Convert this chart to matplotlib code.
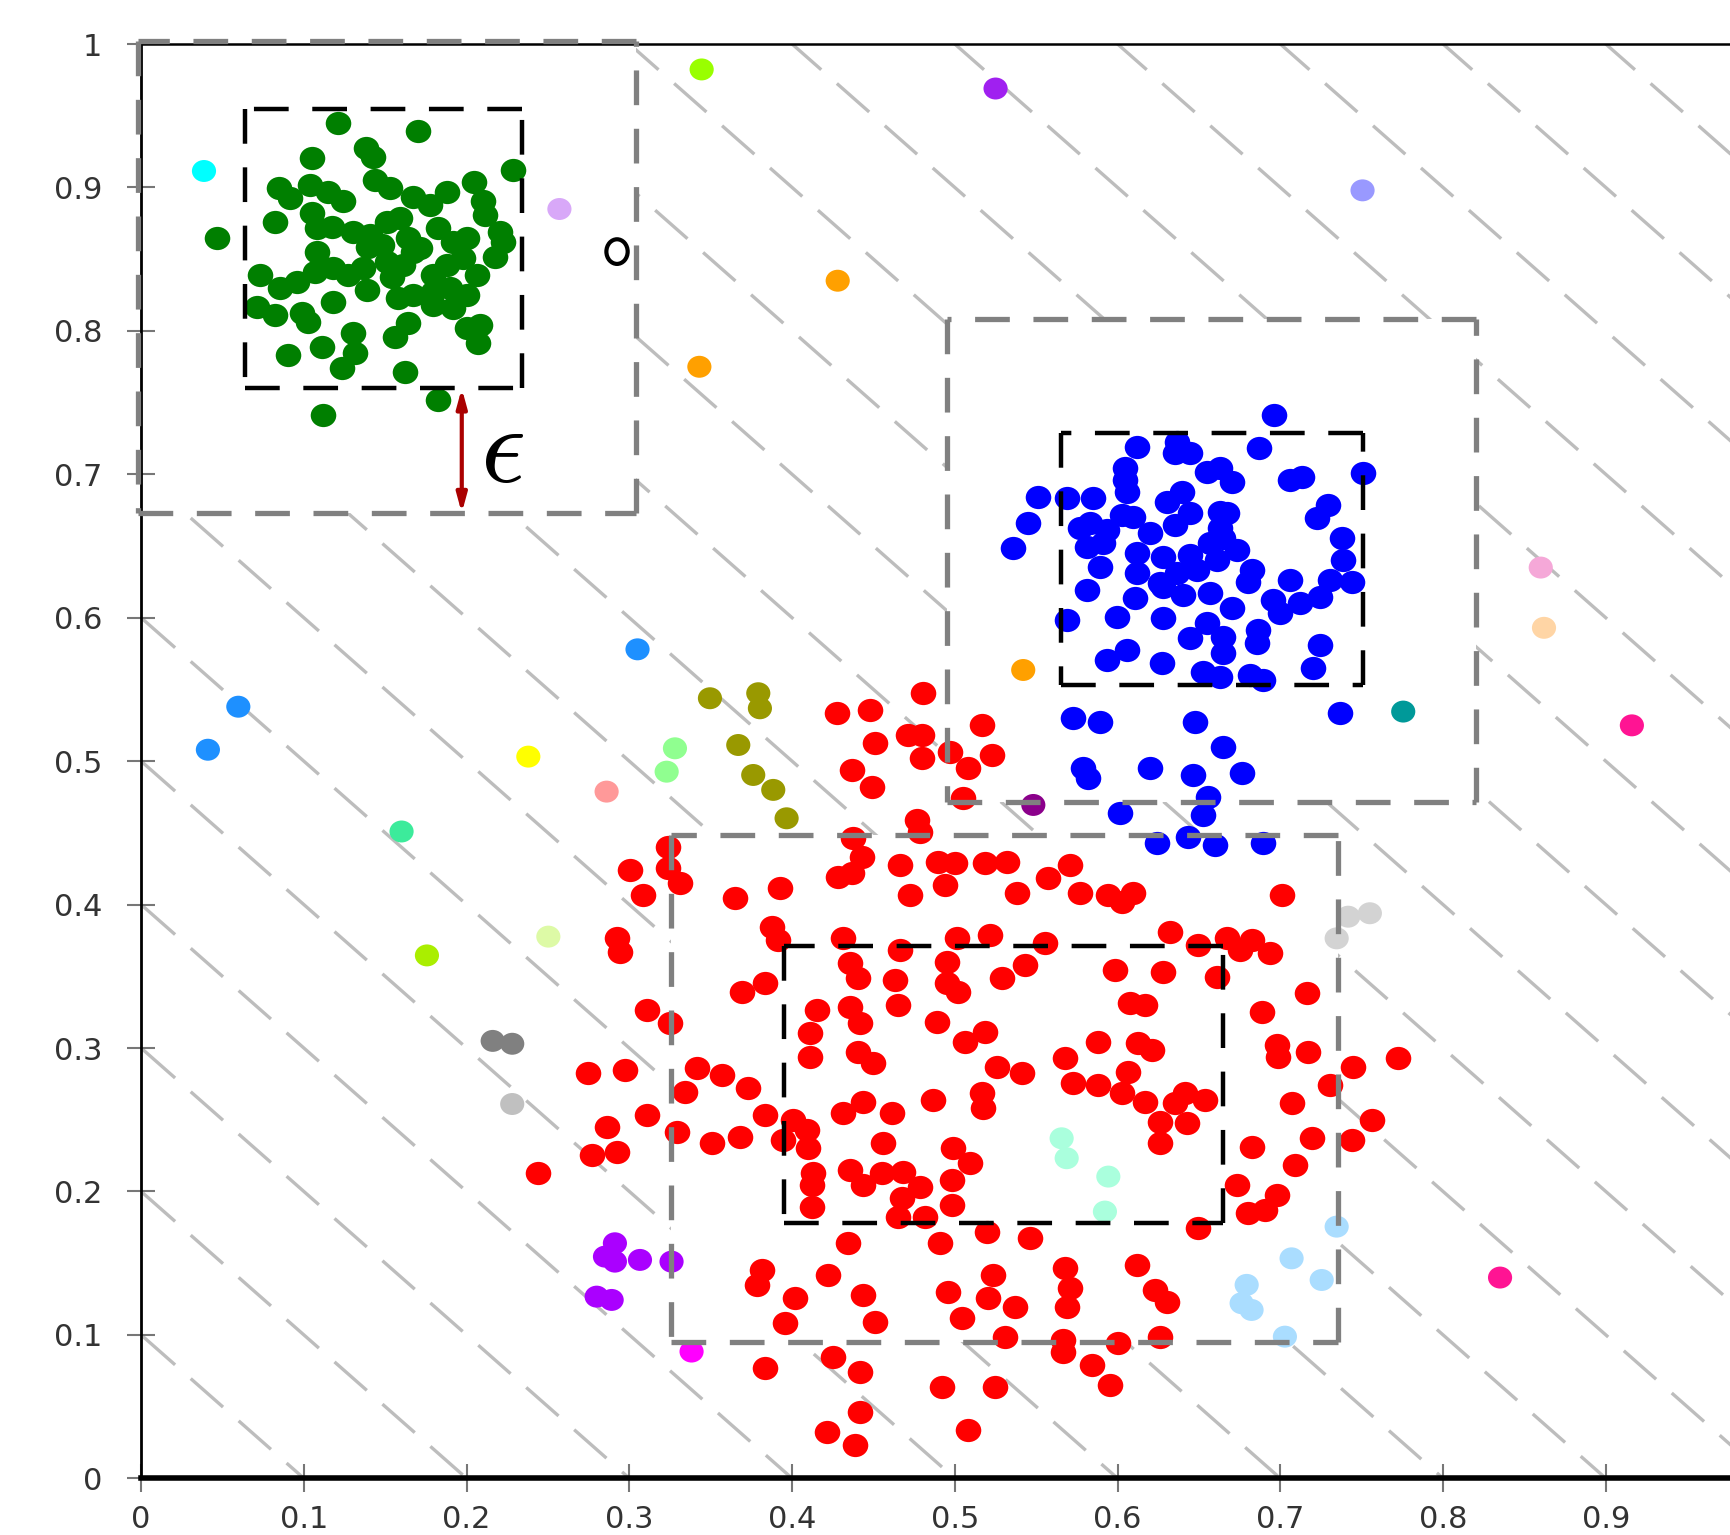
import matplotlib
matplotlib.use('Agg')
import matplotlib.pyplot as plt
from matplotlib.markers import MarkerStyle
from matplotlib.transforms import Affine2D
from matplotlib.patches import Rectangle

plt.rcParams['lines.scale_dashes'] = False

# green cluster (top left)
green_x = [0.1207, 0.1703, 0.1379, 0.1426, 0.1047, 0.2286, 0.0847, 0.1037, 0.1150, 0.1238,
           0.1437, 0.1529, 0.1672, 0.1774, 0.1877, 0.2045, 0.2102, 0.2112, 0.0822, 0.0914,
           0.1047, 0.1078, 0.1170, 0.1303, 0.1396, 0.1508, 0.1590, 0.1641, 0.1713, 0.1826,
           0.1918, 0.2000, 0.2205, 0.2225, 0.2174, 0.0464, 0.0730, 0.0853, 0.0955, 0.1068,
           0.1078, 0.1181, 0.1273, 0.1365, 0.1385, 0.1508, 0.1539, 0.1611, 0.1672, 0.1795,
           0.1877, 0.1979, 0.2061, 0.2000, 0.0710, 0.0822, 0.0986, 0.1027, 0.1181, 0.1580,
           0.1672, 0.1795, 0.1918, 0.1641, 0.1559, 0.2000, 0.2082, 0.2071, 0.1303, 0.1314,
           0.1232, 0.1109, 0.0904, 0.1621, 0.1826, 0.1119, 0.1477, 0.1406, 0.1897, 0.1795]
green_y = [0.9448, 0.9394, 0.9273, 0.9215, 0.9204, 0.9122, 0.8999, 0.9018, 0.8971, 0.8906,
           0.9053, 0.8995, 0.8936, 0.8878, 0.8967, 0.9036, 0.8906, 0.8809, 0.8762, 0.8925,
           0.8820, 0.8716, 0.8727, 0.8692, 0.8588, 0.8762, 0.8785, 0.8646, 0.8576, 0.8716,
           0.8623, 0.8646, 0.8692, 0.8623, 0.8518, 0.8646, 0.8390, 0.8297, 0.8344, 0.8413,
           0.8553, 0.8437, 0.8390, 0.8437, 0.8286, 0.8483, 0.8379, 0.8460, 0.8553, 0.8390,
           0.8460, 0.8506, 0.8390, 0.8251, 0.8170, 0.8111, 0.8123, 0.8065, 0.8204, 0.8228,
           0.8251, 0.8181, 0.8158, 0.8053, 0.7960, 0.8018, 0.8042, 0.7914, 0.7984, 0.7844,
           0.7740, 0.7891, 0.7833, 0.7716, 0.7519, 0.7414, 0.8599, 0.8669, 0.8297, 0.8274]

# blue cluster (right)
blue_x = [0.6961, 0.6117, 0.6363, 0.6352, 0.6445, 0.6870, 0.6045, 0.6045, 0.6547, 0.6629,
          0.6701, 0.7059, 0.7131, 0.7506, 0.5513, 0.5687, 0.5851, 0.6055, 0.6301, 0.6393,
          0.7294, 0.7223, 0.5451, 0.5769, 0.5830, 0.5932, 0.6025, 0.6096, 0.6199, 0.6352,
          0.6445, 0.6629, 0.6670, 0.6629, 0.5359, 0.5810, 0.5912, 0.6117, 0.6281, 0.6445,
          0.6567, 0.6649, 0.6731, 0.7376, 0.7387, 0.5892, 0.6117, 0.6260, 0.6363, 0.6486,
          0.6608, 0.6823, 0.6803, 0.7059, 0.7305, 0.7438, 0.5810, 0.6107, 0.6281, 0.6404,
          0.6567, 0.6701, 0.6957, 0.6998, 0.7120, 0.7243, 0.5687, 0.5994, 0.6281, 0.6547,
          0.6445, 0.6649, 0.6864, 0.6854, 0.6649, 0.7243, 0.7202, 0.6055, 0.5932, 0.6270,
          0.6526, 0.6629, 0.6813, 0.6895, 0.5728, 0.5892, 0.6475, 0.7366, 0.6649, 0.5789,
          0.5820, 0.6199, 0.6465, 0.6762, 0.6557, 0.6014, 0.6527, 0.6240, 0.6434, 0.6598,
          0.6895]
blue_y = [0.7414, 0.7193, 0.7228, 0.7147, 0.7147, 0.7182, 0.7042, 0.6961, 0.7019, 0.7042,
          0.6949, 0.6961, 0.6984, 0.7007, 0.6845, 0.6833, 0.6833, 0.6880, 0.6810, 0.6880,
          0.6786, 0.6694, 0.6659, 0.6624, 0.6659, 0.6612, 0.6717, 0.6705, 0.6589, 0.6647,
          0.6728, 0.6740, 0.6728, 0.6624, 0.6484, 0.6496, 0.6519, 0.6450, 0.6426, 0.6438,
          0.6519, 0.6554, 0.6473, 0.6554, 0.6403, 0.6357, 0.6310, 0.6240, 0.6310, 0.6333,
          0.6403, 0.6333, 0.6252, 0.6264, 0.6264, 0.6252, 0.6194, 0.6136, 0.6217, 0.6159,
          0.6171, 0.6066, 0.6124, 0.6031, 0.6101, 0.6147, 0.5985, 0.6008, 0.5996, 0.5961,
          0.5857, 0.5869, 0.5915, 0.5822, 0.5752, 0.5811, 0.5648, 0.5776, 0.5706, 0.5683,
          0.5625, 0.5590, 0.5601, 0.5566, 0.5299, 0.5276, 0.5276, 0.5334, 0.5102, 0.4951,
          0.4881, 0.4951, 0.4904, 0.4916, 0.4753, 0.4637, 0.4625, 0.4428, 0.4474, 0.4416,
          0.4428]

# red cluster (bottom)
red_x = [0.4806, 0.4273, 0.4478, 0.4509, 0.4714, 0.4796, 0.4796, 0.4970, 0.5082, 0.4365,
         0.4488, 0.5052, 0.4765, 0.4785, 0.4376, 0.4427, 0.4284, 0.4365, 0.4662, 0.4898,
         0.5000, 0.4939, 0.4724, 0.3239, 0.3239, 0.3311, 0.3004, 0.3085, 0.3649, 0.3925,
         0.3874, 0.3915, 0.2922, 0.2942, 0.4314, 0.4662, 0.5011, 0.4355, 0.4406, 0.4632,
         0.4949, 0.4949, 0.5021, 0.3690, 0.3833, 0.4150, 0.4355, 0.4417, 0.4652, 0.4888,
         0.5062, 0.4109, 0.4109, 0.4406, 0.4499, 0.3106, 0.3249, 0.2748, 0.2973, 0.3413,
         0.3567,
         0.5164, 0.5226, 0.5185, 0.5318, 0.5380, 0.5574, 0.5707, 0.5769, 0.5943, 0.6025,
         0.6096, 0.7008, 0.5216, 0.5554, 0.6322, 0.6496, 0.6670, 0.6752, 0.6823, 0.6936,
         0.5431, 0.5287, 0.5984, 0.6281, 0.6608, 0.7161, 0.6076, 0.6168, 0.6885, 0.5185,
         0.5881, 0.5676, 0.6127, 0.6209, 0.6977, 0.6987, 0.7171, 0.7725, 0.7448, 0.5257,
         0.5410, 0.6066,
         0.3341, 0.3731, 0.3106, 0.2860, 0.3290, 0.2768, 0.2922, 0.2440, 0.3505, 0.3679,
         0.3833, 0.3946, 0.4007, 0.4089, 0.4099, 0.4130, 0.4120, 0.4120, 0.4314, 0.4437,
         0.4611, 0.4867, 0.4560, 0.4355, 0.4437, 0.4550, 0.4683, 0.4785, 0.4673, 0.4652,
         0.4816, 0.4980, 0.4980, 0.4990, 0.5093, 0.4345, 0.4908, 0.3812, 0.3782, 0.4222,
         0.4017, 0.3956, 0.4437, 0.4509, 0.4959, 0.5041, 0.4253, 0.4417, 0.3833, 0.4918,
         0.4417, 0.4212, 0.4386, 0.5082,
         0.5164, 0.5175, 0.5728, 0.5881, 0.6025, 0.6168, 0.6260, 0.6352, 0.6414, 0.6424,
         0.6537, 0.6260, 0.7069, 0.7305, 0.7561, 0.7438, 0.7192, 0.6823, 0.7090, 0.6731,
         0.6977, 0.6803, 0.6905, 0.5195, 0.5461, 0.6496, 0.5236, 0.5205, 0.5369, 0.5676,
         0.5707, 0.5687, 0.6117, 0.6229, 0.6301, 0.5308, 0.5666, 0.5666, 0.6004, 0.6260,
         0.5840, 0.5952, 0.5246]
red_y = [0.5474, 0.5334, 0.5357, 0.5125, 0.5183, 0.5183, 0.5020, 0.5067, 0.4951, 0.4939,
         0.4823, 0.4741, 0.4590, 0.4509, 0.4463, 0.4335, 0.4195, 0.4219, 0.4277, 0.4300,
         0.4288, 0.4137, 0.4068, 0.4405, 0.4253, 0.4149, 0.4242, 0.4068, 0.4044, 0.4114,
         0.3847, 0.3754, 0.3765, 0.3672, 0.3765, 0.3684, 0.3765, 0.3591, 0.3487, 0.3475,
         0.3603, 0.3452, 0.3394, 0.3394, 0.3452, 0.3266, 0.3289, 0.3173, 0.3301, 0.3185,
         0.3045, 0.3103, 0.2940, 0.2975, 0.2894, 0.3266, 0.3173, 0.2824, 0.2848, 0.2859,
         0.2813,
         0.5253, 0.5044, 0.4288, 0.4300, 0.4079, 0.4184, 0.4277, 0.4079, 0.4068, 0.4021,
         0.4079, 0.4068, 0.3789, 0.3731, 0.3812, 0.3719, 0.3765, 0.3684, 0.3754, 0.3661,
         0.3580, 0.3487, 0.3545, 0.3533, 0.3498, 0.3382, 0.3312, 0.3301, 0.3254, 0.3115,
         0.3045, 0.2929, 0.3033, 0.2987, 0.3022, 0.2940, 0.2975, 0.2929, 0.2871, 0.2871,
         0.2824, 0.2836,
         0.2696, 0.2720, 0.2534, 0.2452, 0.2418, 0.2255, 0.2278, 0.2127, 0.2336, 0.2383,
         0.2534, 0.2359, 0.2499, 0.2429, 0.2301, 0.2127, 0.2046, 0.1895, 0.2545, 0.2627,
         0.2545, 0.2638, 0.2336, 0.2150, 0.2046, 0.2127, 0.2139, 0.2034, 0.1953, 0.1825,
         0.1825, 0.2080, 0.1906, 0.2301, 0.2197, 0.1639, 0.1639, 0.1453, 0.1348, 0.1418,
         0.1255, 0.1081, 0.1279, 0.1093, 0.1302, 0.1116, 0.0849, 0.0744, 0.0767, 0.0640,
         0.0465, 0.0326, 0.0233, 0.0337,
         0.2685, 0.2580, 0.2755, 0.2743, 0.2685, 0.2627, 0.2487, 0.2615, 0.2685, 0.2476,
         0.2638, 0.2336, 0.2615, 0.2743, 0.2499, 0.2359, 0.2371, 0.2313, 0.2185, 0.2046,
         0.1976, 0.1848, 0.1871, 0.1720, 0.1674, 0.1744, 0.1418, 0.1255, 0.1197, 0.1464,
         0.1325, 0.1197, 0.1488, 0.1314, 0.1232, 0.0988, 0.0965, 0.0884, 0.0942, 0.0988,
         0.0791, 0.0651, 0.0640]

# noise / small clusters
noise_x = [0.0386, 0.2570, 0.3444, 0.5250, 0.7505, 0.4280, 0.3430, 0.5420, 0.8600, 0.8620,
           0.9160, 0.8350, 0.7755, 0.3050, 0.0597, 0.0410, 0.2379, 0.2860, 0.3280, 0.3229,
           0.3495, 0.3792, 0.3802, 0.3669, 0.3761, 0.3884, 0.3966, 0.1600, 0.1756, 0.2502,
           0.2160, 0.2280, 0.2280, 0.2911, 0.2850, 0.2911, 0.3065, 0.3259, 0.2799, 0.2891,
           0.3382, 0.5656, 0.5687, 0.5943, 0.5922, 0.7417, 0.7550, 0.7346, 0.7346, 0.7069,
           0.7254, 0.6793, 0.6762, 0.6823, 0.7028, 0.5482]
noise_y = [0.9115, 0.8850, 0.9823, 0.9690, 0.8980, 0.8350, 0.7750, 0.5636, 0.6350, 0.5930,
           0.5250, 0.1400, 0.5346, 0.5780, 0.5380, 0.5080, 0.5032, 0.4788, 0.5090, 0.4927,
           0.5439, 0.5474, 0.5369, 0.5113, 0.4904, 0.4800, 0.4602, 0.4510, 0.3646, 0.3777,
           0.3050, 0.3030, 0.2610, 0.1639, 0.1546, 0.1511, 0.1523, 0.1511, 0.1267, 0.1244,
           0.0884, 0.2371, 0.2232, 0.2104, 0.1860, 0.3916, 0.3940, 0.3765, 0.1755, 0.1534,
           0.1383, 0.1349, 0.1221, 0.1174, 0.0988, 0.4695]
noise_colors = ['#00ffff', '#d8a8f8', '#99ff00', '#a020f0', '#9999ff', '#ffa000', '#ffa000',
                '#ffa000', '#f5a8d8', '#ffd5a5', '#ff1493', '#ff1493', '#009999', '#1e90ff',
                '#1e90ff', '#1e90ff', '#ffff00', '#ff9999', '#90ff90', '#90ff90', '#999900',
                '#999900', '#999900', '#999900', '#999900', '#999900', '#999900', '#3ceb9b',
                '#aaee00', '#ddfaa6', '#808080', '#808080', '#c0c0c0', '#aa00ff', '#aa00ff',
                '#aa00ff', '#aa00ff', '#aa00ff', '#aa00ff', '#aa00ff', '#ff00ff', '#aaffdd',
                '#aaffdd', '#aaffdd', '#aaffdd', '#d3d3d3', '#d3d3d3', '#d3d3d3', '#aaddff',
                '#aaddff', '#aaddff', '#aaddff', '#aaddff', '#aaddff', '#aaddff', '#8b008b']

# boxes as (x0, y0, x1, y1)
outer_boxes = [(-0.002, 0.673, 0.304, 1.002), (0.495, 0.4715, 0.820, 0.808),
               (0.3254, 0.0954, 0.7356, 0.4485)]
inner_boxes = [(0.064, 0.760, 0.234, 0.955), (0.565, 0.553, 0.7505, 0.729),
               (0.395, 0.1777, 0.665, 0.371)]

# epsilon gap arrow and the lone point "o"
eps_x = 0.197
eps_top, eps_bottom = 0.760, 0.673
ring_x, ring_y = 0.2924, 0.8553

x_ticks = [i / 10 for i in range(10)]   # the 1 sits past the right edge
y_ticks = [i / 10 for i in range(11)]
hatch_levels = [i / 10 for i in range(1, 20)]


def draw_box(ax, box, color, lw, dashes):
    x0, y0, x1, y1 = box
    # draw each side on its own so every corner gets a dash
    corners = [(x0, y0), (x1, y0), (x1, y1), (x0, y1), (x0, y0)]
    for (ax_, ay_), (bx_, by_) in zip(corners[:-1], corners[1:]):
        ax.plot([ax_, bx_], [ay_, by_], color=color, lw=lw, dashes=dashes,
                zorder=4, clip_on=False, solid_capstyle='butt', dash_capstyle='butt')


fig = plt.figure(figsize=(17.3, 15.35), dpi=100)
ax = fig.add_axes([0.0816, 0.0369, 0.9407, 0.9344])
ax.set_xlim(0, 1)
ax.set_ylim(0, 1)

# background hatch x + y = c
for c in hatch_levels:
    ax.plot([c - 1.2, c + 0.2], [1.2, -0.2], color='#bdbdbd', lw=2.4,
            dashes=(31, 15), zorder=0.5)

# white out the region inside the outer boxes
for x0, y0, x1, y1 in outer_boxes:
    ax.add_patch(Rectangle((x0, y0), x1 - x0, y1 - y0, facecolor='white',
                           edgecolor='none', zorder=1, clip_on=False))

dot = MarkerStyle('o', transform=Affine2D().scale(1.1, 1.0))
ax.scatter(green_x, green_y, s=280, color='#007f00', marker=dot, linewidths=0, zorder=2)
ax.scatter(blue_x, blue_y, s=280, color='#0000ff', marker=dot, linewidths=0, zorder=2)
ax.scatter(red_x, red_y, s=280, color='#ff0000', marker=dot, linewidths=0, zorder=2)
ax.scatter(noise_x, noise_y, s=250, c=noise_colors, marker=dot, linewidths=0, zorder=2)

ax.scatter([ring_x], [ring_y], s=260, facecolors='none', edgecolors='black',
           linewidths=3, marker=MarkerStyle('o', transform=Affine2D().scale(0.95, 1.1)),
           zorder=3)

for box in outer_boxes:
    draw_box(ax, box, '#808080', 3.8, (25, 17))
for box in inner_boxes:
    draw_box(ax, box, 'black', 3.2, (25, 17))

ax.annotate('', xy=(eps_x, eps_bottom), xytext=(eps_x, eps_top),
            arrowprops=dict(arrowstyle='<|-|>,head_length=1.1,head_width=0.3',
                            color='#aa0000', lw=3, shrinkA=0, shrinkB=0), zorder=5)
ax.text(0.222, 0.716, r'$\epsilon$', fontsize=80, math_fontfamily='cm',
        ha='center', va='center', zorder=5)

ax.set_xticks(x_ticks)
ax.set_yticks(y_ticks)
ax.set_xticklabels(['%g' % t for t in x_ticks])
ax.set_yticklabels(['%g' % t for t in y_ticks])
ax.tick_params(direction='inout', length=20, width=1.5, color='#777777',
               labelsize=22, labelcolor='#333333')
ax.tick_params(axis='x', pad=9)
ax.tick_params(axis='y', pad=18)

ax.spines['left'].set_linewidth(2)
ax.spines['bottom'].set_linewidth(4)
ax.spines['top'].set_linewidth(1.8)
ax.spines['right'].set_linewidth(1.8)

fig.savefig('out.png', dpi=100)
